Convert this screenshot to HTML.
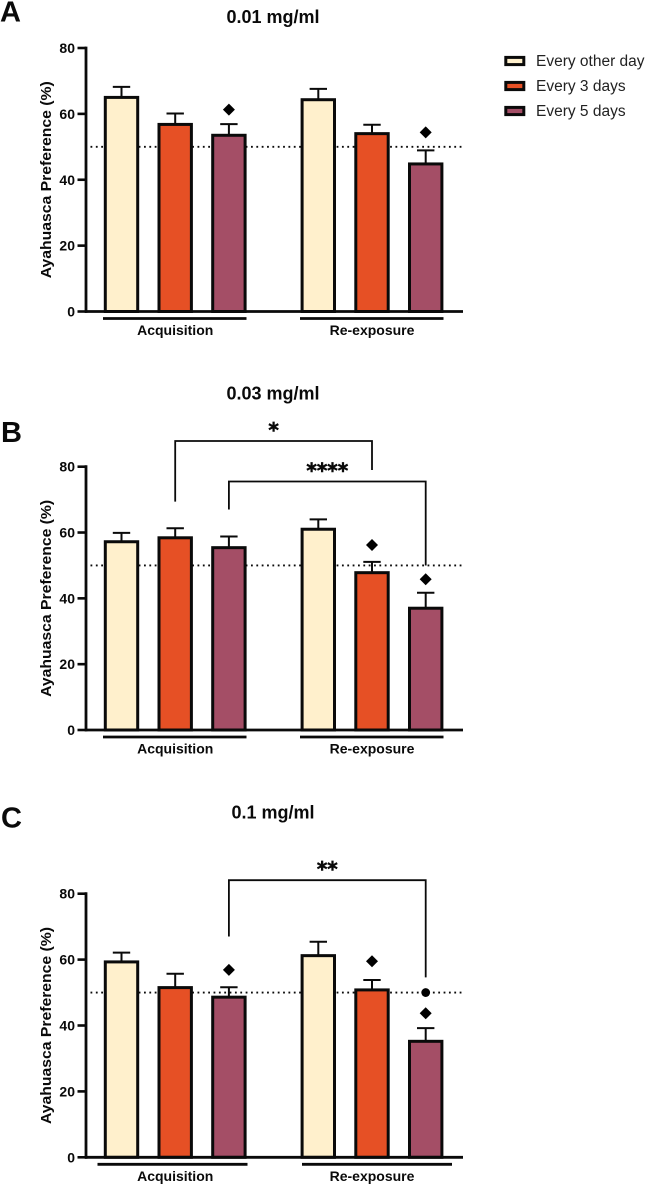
<!DOCTYPE html>
<html lang="en">
<head>
<meta charset="utf-8">
<title>Ayahuasca Preference</title>
<style>
html,body{margin:0;padding:0;background:#fff;}
svg{display:block;font-family:"Liberation Sans",Arial,sans-serif;}
</style>
</head>
<body>
<svg id="figure" xmlns="http://www.w3.org/2000/svg" width="645" height="1184" viewBox="0 0 645 1184"></svg>
<script>
const yTicks = [0, 20, 40, 60, 80];
const seriesNames = ["Every other day", "Every 3 days", "Every 5 days"];
const seriesColors = ["#FFF0CC", "#E65025", "#A44E66"];
const phases = ["Acquisition", "Re-exposure"];
const chance = 50;

const meansA = [65, 56.8, 53.5, 64.3, 54, 44.8];
const errorsA = [3.2, 3.3, 3.4, 3.3, 2.7, 4.1];
const diamondsA = [[2, 61.3], [5, 54.4]];
const circlesA = [];
const bracketsA = [];

const meansB = [57.2, 58.4, 55.4, 61, 47.8, 37];
const errorsB = [2.7, 2.9, 3.4, 3, 3.3, 4.7];
const diamondsB = [[4, 56.2], [5, 45.8]];
const circlesB = [];
const bracketsB = [[1, 4, 87.8, 69.4, 79, "*"], [2, 5, 75.5, 67, 50, "****"]];

const meansC = [59.3, 51.5, 48.6, 61.2, 50.8, 35.2];
const errorsC = [2.8, 4.2, 3, 4.2, 3, 4];
const diamondsC = [[2, 56.9], [4, 59.5], [5, 43.7]];
const circlesC = [[5, 50]];
const bracketsC = [[2, 5, 84.1, 67, 54.6, "**"]];

const svg = document.getElementById("figure");
const NS = "http://www.w3.org/2000/svg";
const INK = "#0a0a0a";

function el(parent, tag, attrs, text) {
  const node = document.createElementNS(NS, tag);
  for (const k in attrs) node.setAttribute(k, attrs[k]);
  if (text !== undefined) node.textContent = text;
  parent.appendChild(node);
  return node;
}

function barX(i) {
  return 121.5 + 53.7 * (i % 3) + (i >= 3 ? 196.8 : 0);
}

function drawPanel(opt) {
  const y = v => opt.y0 - (v / 80) * (opt.y0 - opt.y80);
  const g = el(svg, "g", {});
  
  

  const letter = el(g, "text", {x: opt.letterX, y: opt.letterY, "font-size": 29, "font-weight": 700, fill: INK}, opt.key.toUpperCase());
  
  

  const title = el(g, "text", {x: 273, y: opt.titleY, "font-size": 18, "font-weight": 700, fill: INK, "text-anchor": "middle"}, opt.title);
  
  

  const chanceLine = el(g, "line", {x1: 90.5, x2: 462, y1: y(chance), y2: y(chance), stroke: INK, "stroke-width": 1.8, "stroke-dasharray": "1.8 3.55"});
  
  

  opt.means.forEach((m, i) => {
    const cx = barX(i);
    const top = y(m + opt.errors[i]);
    const stem = el(g, "line", {x1: cx, x2: cx, y1: top, y2: y(m), stroke: INK, "stroke-width": 2});
    
    
    const cap = el(g, "line", {x1: cx - 8.7, x2: cx + 8.7, y1: top, y2: top, stroke: INK, "stroke-width": 2});
    
    
    const bar = el(g, "rect", {x: cx - 16.2, y: y(m), width: 32.4, height: opt.y0 - y(m), fill: seriesColors[i % 3], stroke: INK, "stroke-width": 3});
    
    
  });

  const yAxis = el(g, "line", {x1: 86, x2: 86, y1: y(80) - 1.4, y2: opt.y0 + 1.4, stroke: INK, "stroke-width": 2.8});
  
  
  const xAxis = el(g, "line", {x1: 85, x2: 463, y1: opt.y0, y2: opt.y0, stroke: INK, "stroke-width": 2.8});
  
  

  yTicks.forEach(t => {
    const tick = el(g, "line", {x1: 77.5, x2: 86, y1: y(t), y2: y(t), stroke: INK, "stroke-width": 2.6});
    
    
    const label = el(g, "text", {x: 75, y: y(t) + 5, "font-size": 14, "font-weight": 700, fill: INK, "text-anchor": "end"}, t);
    
    
  });

  const midY = (y(0) + y(80)) / 2;
  const axisTitle = el(g, "text", {x: 0, y: 0, transform: "translate(51 " + midY + ") rotate(-90)", "font-size": 14.5, "font-weight": 700, fill: INK, "text-anchor": "middle", textLength: 197, lengthAdjust: "spacingAndGlyphs"}, "Ayahuasca Preference (%)");
  
  

  phases.forEach((p, k) => {
    const span = opt.spans[k];
    const under = el(g, "line", {x1: span[0], x2: span[1], y1: opt.y0 + 7, y2: opt.y0 + 7, stroke: INK, "stroke-width": 2.8});
    
    
    const label = el(g, "text", {x: barX(1 + k * 3), y: opt.y0 + 23.5, "font-size": 14, "font-weight": 700, fill: INK, "text-anchor": "middle"}, p);
    
    
  });

  opt.diamonds.forEach(d => {
    const cx = barX(d[0]), cy = y(d[1]);
    const mark = el(g, "polygon", {points: [cx, cy - 6, cx + 6, cy, cx, cy + 6, cx - 6, cy].join(" "), fill: "#000"});
    
    
  });

  opt.circles.forEach(c => {
    const dot = el(g, "circle", {cx: barX(c[0]), cy: y(c[1]), r: 4.4, fill: "#000"});
    
    
  });

  opt.brackets.forEach(b => {
    const x1 = barX(b[0]), x2 = barX(b[1]);
    const path = el(g, "polyline", {points: [x1, y(b[3]), x1, y(b[2]), x2, y(b[2]), x2, y(b[4])].join(" "), fill: "none", stroke: INK, "stroke-width": 1.8});
    
    
    const stars = el(g, "text", {x: (x1 + x2) / 2, y: y(b[2]) - 4, "font-family": "DejaVu Sans, sans-serif", "font-size": 20, "font-weight": 700, fill: INK, stroke: INK, "stroke-width": 0.6, "text-anchor": "middle"}, b[5]);
    
    
  });
}

drawPanel({key: "a", title: "0.01 mg/ml", y0: 311.5, y80: 48, letterX: 0, letterY: 21.7, titleY: 23,
  means: meansA, errors: errorsA, diamonds: diamondsA, circles: circlesA, brackets: bracketsA,
  spans: [[103, 246.5], [300, 443.5]]});
drawPanel({key: "b", title: "0.03 mg/ml", y0: 730, y80: 466.7, letterX: 1, letterY: 442, titleY: 399.3,
  means: meansB, errors: errorsB, diamonds: diamondsB, circles: circlesB, brackets: bracketsB,
  spans: [[103, 246.5], [300, 443.5]]});
drawPanel({key: "c", title: "0.1 mg/ml", y0: 1157.3, y80: 893.7, letterX: 1, letterY: 827.7, titleY: 818.3,
  means: meansC, errors: errorsC, diamonds: diamondsC, circles: circlesC, brackets: bracketsC,
  spans: [[97.5, 247.5], [302, 452]]});

const legend = el(svg, "g", {});


seriesNames.forEach((name, i) => {
  const cy = 61 + i * 25;
  const swatch = el(legend, "rect", {x: 505.8, y: cy - 3.6, width: 18, height: 7.2, fill: seriesColors[i], stroke: INK, "stroke-width": 3});
  
  
  const label = el(legend, "text", {x: 536, y: cy + 5.2, "font-size": 15.5, fill: "#222"}, name);
  
  
});
</script>
</body>
</html>
